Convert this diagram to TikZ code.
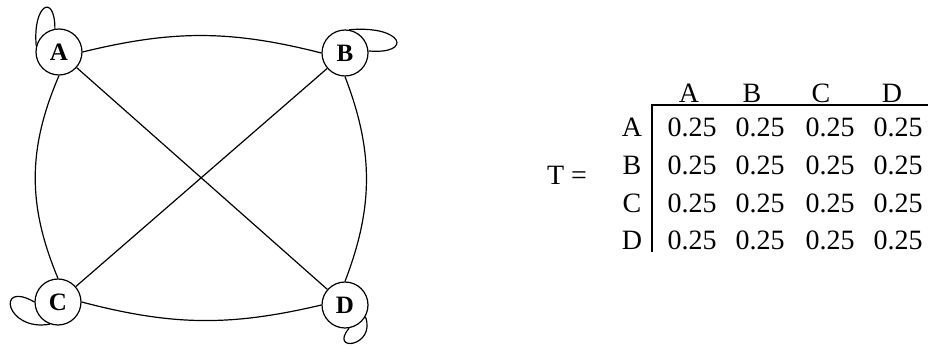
\documentclass[tikz,border=0pt]{standalone}
\usepackage{fontspec}
\setmainfont{Liberation Serif}
\begin{document}
\begin{tikzpicture}[x=1pt,y=1pt,
  vert/.style={circle,draw,line width=1.2pt,minimum size=46pt,inner sep=0pt,font=\fontsize{25}{25}\selectfont\bfseries},
  edge/.style={line width=1.2pt},
  cell/.style={font=\fontsize{28}{28}\selectfont,inner sep=0pt,anchor=center},
  rule/.style={line width=1.5pt}]
\useasboundingbox (0,0) rectangle (932,-347);
\fill[white] (0,0) rectangle (932,-347);
% graph
\node[vert] (A) at (59,-52) {A};
\node[vert] (B) at (345,-53) {B};
\node[vert] (C) at (58,-302) {C};
\node[vert] (D) at (345,-305) {D};
\draw[edge] (A.east) to[bend left=14] (B.west);
\draw[edge] (A.south) to[bend right=23] (C.north);
\draw[edge] (B.south) to[bend left=21] (D.north);
\draw[edge] (C.east) to[bend right=14] (D.west);
\draw[edge] (A) -- (D);
\draw[edge] (B) -- (C);
% self loops
\draw[edge] (A.165) .. controls +(95:42) and +(90:36) .. (A.100);
\draw[edge] (B.80) .. controls +(5:55) and +(-5:45) .. (B.5);
\draw[edge] (C.180) .. controls +(150:45) and +(190:45) .. (C.250);
\draw[edge] (D.330) .. controls +(290:32) and +(230:32) .. (D.280);
% matrix
\node[cell] (T) at (567,-175) {T =};
\foreach \c/\x in {A/689,B/752,C/821,D/892}{
  \node[cell] (h\c) at (\x,-93) {\c};
}
\foreach \r/\y in {A/127,B/165,C/203,D/240}{
  \node[cell] (r\r) at (632,-\y) {\r};
  \foreach \c/\x in {1/692,2/760,3/830,4/898}{
    \node[cell] (v\r\c) at (\x,-\y) {0.25};
  }
}
\coordinate (tl) at (652,-105);
\coordinate (tr) at (928,-105);
\coordinate (bl) at (652,-252);
\draw[rule] (tr) -- (tl) -- (bl);
\end{tikzpicture}
\end{document}
